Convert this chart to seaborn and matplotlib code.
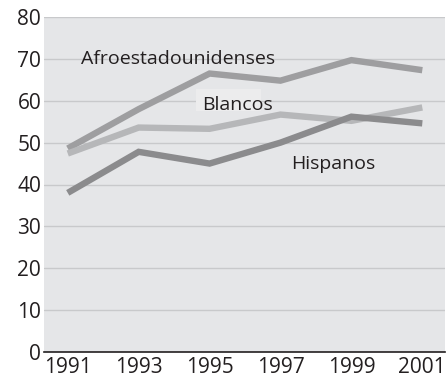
import matplotlib
matplotlib.use("Agg")
import matplotlib.pyplot as plt
import matplotlib.patches as mpatches
import seaborn as sns
import pandas as pd

years = [1991, 1993, 1995, 1997, 1999, 2001]
afro = [48.6, 58.0, 66.5, 64.8, 69.7, 67.3]
blancos = [47.4, 53.6, 53.3, 56.7, 55.2, 58.4]
hispanos = [38.0, 47.8, 45.0, 50.0, 56.2, 54.6]
series_names = ["Afroestadounidenses", "Blancos", "Hispanos"]
y_ticks = [0, 10, 20, 30, 40, 50, 60, 70, 80]

df = pd.DataFrame({
    "year": years * 3,
    "value": afro + blancos + hispanos,
    "group": [n for n in series_names for _ in years],
})

sns.set_theme(style="white")
plt.rcParams["font.family"] = ["Open Sans", "DejaVu Sans"]

fig = plt.figure(figsize=(4.46, 3.82), dpi=100)
ax = fig.add_axes([44 / 446, 1 - 352 / 382, (445 - 44) / 446, (352 - 17) / 382])
ax.set_facecolor("#e5e6e8")

palette = {"Afroestadounidenses": "#9e9ea0", "Blancos": "#b6b7b9", "Hispanos": "#8b8b8d"}
sns.lineplot(data=df, x="year", y="value", hue="group", palette=palette,
             linewidth=4.6, legend=False, ax=ax, hue_order=series_names)
for ln in ax.get_lines():
    ln.set_solid_capstyle("butt")
    ln.set_solid_joinstyle("miter")

ax.set_xlim(1990.33, 2001.64)
ax.set_ylim(0, 80)
ax.set_yticks(y_ticks)
ax.set_xticks(years)
ax.set_xlabel("")
ax.set_ylabel("")
ax.grid(axis="y", color="#c8c9cb", linewidth=1.0)
ax.set_axisbelow(True)
for s in ["top", "right", "left"]:
    ax.spines[s].set_visible(False)
ax.spines["bottom"].set_color("#231f20")
ax.spines["bottom"].set_linewidth(1.2)
ax.tick_params(axis="x", direction="in", length=7.7, width=1.1, color="#231f20",
               labelsize=15, labelcolor="#231f20", pad=3.5)
ax.tick_params(axis="y", length=0, labelsize=15, labelcolor="#231f20", pad=2)

# soft panel behind the "Blancos" label
ax.add_patch(mpatches.Rectangle((1994.63, 57.5), 1.83, 5.3, facecolor="#ececed",
                                edgecolor="none", zorder=1.5))

ax.text(1994.1, 68.7, "Afroestadounidenses", ha="center", va="baseline",
        fontsize=14, color="#231f20", zorder=3)
ax.text(1995.8, 57.8, "Blancos", ha="center", va="baseline", fontsize=14,
        color="#231f20", zorder=3)
ax.text(1998.5, 43.6, "Hispanos", ha="center", va="baseline", fontsize=14,
        color="#231f20", zorder=3)

fig.savefig("out.png", dpi=100)
